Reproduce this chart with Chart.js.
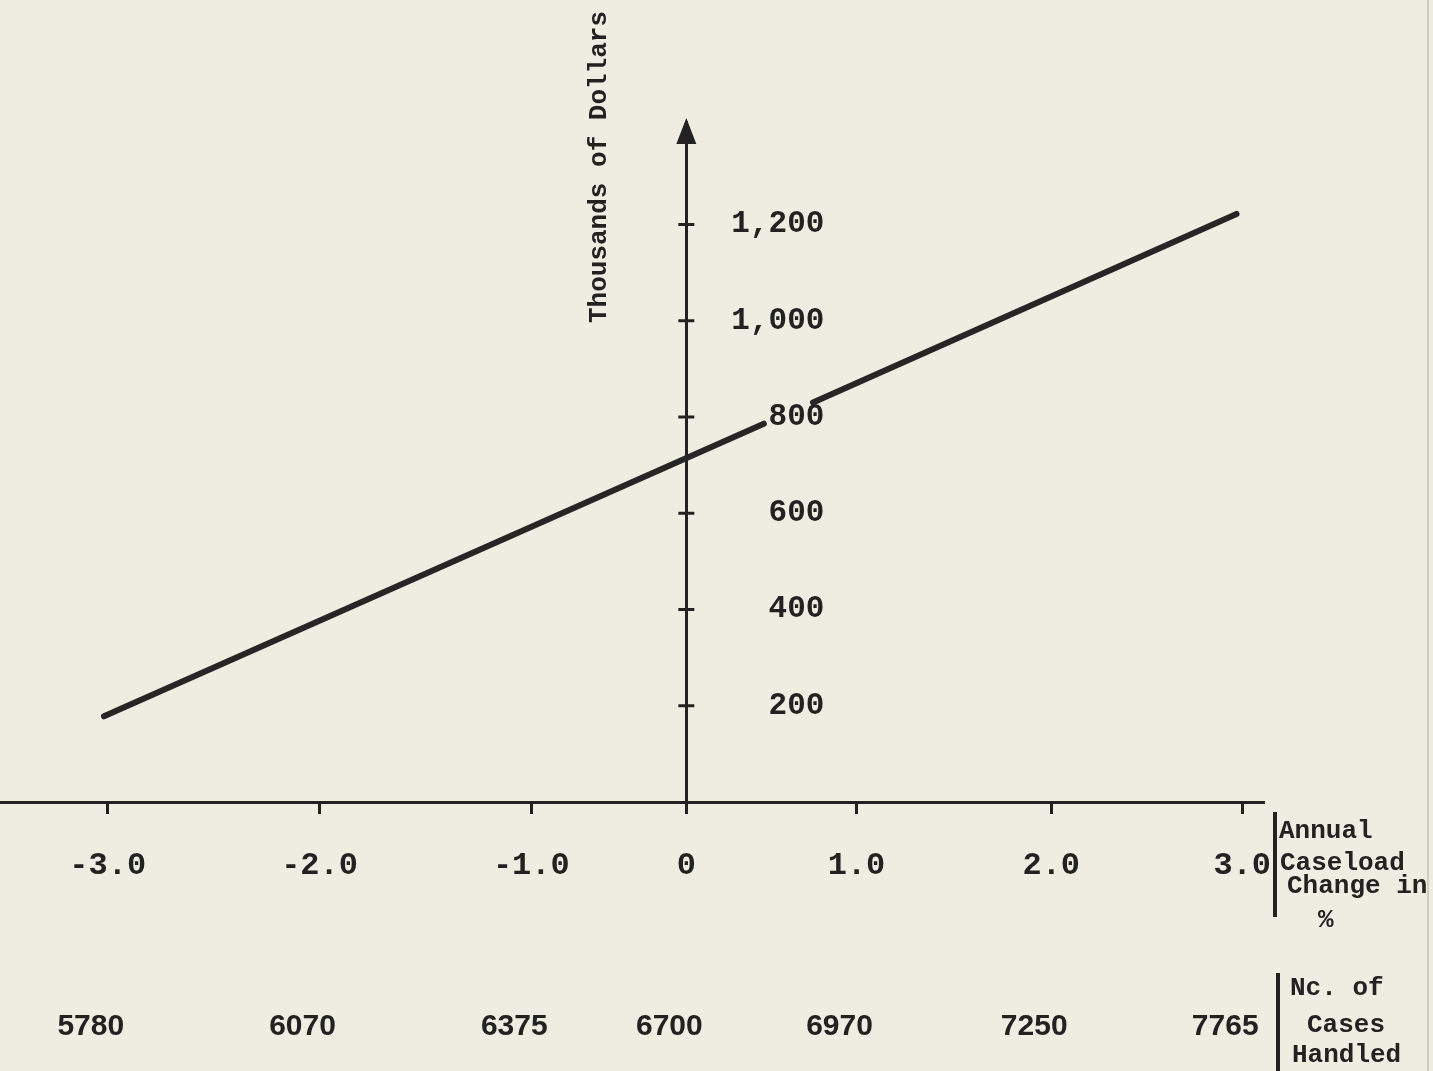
<!DOCTYPE html>
<html>
<head>
<meta charset="utf-8">
<title>Annual caseload change and cost</title>
<script src="https://cdn.jsdelivr.net/npm/chart.js@4.4.1/dist/chart.umd.min.js"></script>
<style>
  html, body { margin: 0; padding: 0; background: #efede1; overflow: hidden; }
  #wrap { position: relative; width: 1433px; height: 1071px; overflow: hidden; }
  #edge { position: absolute; left: 1427px; top: 0; width: 2px; height: 1071px; background: #cfcdbd; }
</style>
</head>
<body>
<div id="wrap">
  <!-- canvas runs a little past the window so the lower label row can sit near the bottom edge -->
  <canvas id="caseChart" width="1433" height="1140"></canvas>
  <div id="edge"></div>
</div>
<script>
// annual caseload change (%) and the matching number of cases handled
const caseloadChange = ["-3.0", "-2.0", "-1.0", "0", "1.0", "2.0", "3.0"];
const casesHandled = ["5780", "6070", "6375", "6700", "6970", "7250", "7765"];
// where each labelled tick sits on the drawn axis (spacing is uneven in the original)
const tickAt = [-3.0, -1.88, -0.76, 0.06, 0.96, 1.99, 3.0];

// cost line in thousands of dollars, broken where it passes the 800 label
const lineX = [-3.02, 0.47, 0.6, 0.73, 2.97];
const lineY = [178, 786, null, 830, 1222];

const yTicks = [200, 400, 600, 800, 1000, 1200];
const yLabels = ["200", "400", "600", "800", "1,000", "1,200"];

const yTitle = "Thousands of Dollars";
const changeNote = ["Annual", "Caseload", "Change in", "%"];
const casesNote = ["Nc. of", "Cases", "Handled"];

const ink = "#222222";
const typeFont = '"Liberation Mono", "Courier New", monospace';
const narrowFont = '"Liberation Sans Narrow", "Liberation Sans", sans-serif';

const xMin = -3.57;
const xMax = 3.11;

// arrow head, cross ticks, rotated title and the notes on the right
const extras = {
    id: "extras",
    afterDraw(chart) {
        const ctx = chart.ctx;
        const x = chart.scales.x;
        const y = chart.scales.y;
        const ax = x.getPixelForValue(tickAt[3]);
        const top = chart.chartArea.top;

        ctx.save();
        ctx.strokeStyle = ink;
        ctx.fillStyle = ink;
        ctx.lineWidth = 3;
        yTicks.forEach(v => {
            const py = y.getPixelForValue(v);
            ctx.beginPath();
            ctx.moveTo(ax - 8, py);
            ctx.lineTo(ax + 8, py);
            ctx.stroke();
        });

        ctx.beginPath();
        ctx.moveTo(ax, top - 4);
        ctx.lineTo(ax - 10, top + 22);
        ctx.lineTo(ax + 10, top + 22);
        ctx.closePath();
        ctx.fill();

        // brackets beside the two label rows
        ctx.lineWidth = 4;
        ctx.beginPath();
        ctx.moveTo(1275, 812);
        ctx.lineTo(1275, 917);
        ctx.moveTo(1278, 973);
        ctx.lineTo(1278, 1071);
        ctx.stroke();

        ctx.font = "bold 26px " + typeFont;
        ctx.textAlign = "left";
        ctx.textBaseline = "middle";
        const changeX = [1279, 1280, 1287, 1318];
        const changeY = [831, 863, 886, 920];
        changeNote.forEach((t, i) => ctx.fillText(t, changeX[i], changeY[i]));
        const casesX = [1290, 1307, 1292];
        const casesY = [988, 1025, 1055];
        casesNote.forEach((t, i) => ctx.fillText(t, casesX[i], casesY[i]));

        ctx.font = "bold 26px " + typeFont;
        ctx.textBaseline = "alphabetic";
        ctx.translate(606, 323);
        ctx.rotate(-Math.PI / 2);
        ctx.fillText(yTitle, 0, 0);
        ctx.restore();
    }
};

new Chart(document.getElementById("caseChart"), {
    type: "line",
    data: {
        datasets: [{
            data: lineX.map((v, i) => ({ x: v, y: lineY[i] })),
            borderColor: "#262626",
            borderWidth: 6,
            borderCapStyle: "round",
            pointRadius: 0,
            tension: 0,
            spanGaps: false
        }]
    },
    options: {
        responsive: false,
        animation: false,
        layout: { padding: { top: 122, right: 170, bottom: 4, left: 0 } },
        plugins: { legend: { display: false }, tooltip: { enabled: false } },
        scales: {
            x: {
                type: "linear",
                position: "bottom",
                weight: 0,
                min: xMin,
                max: xMax,
                afterBuildTicks: axis => { axis.ticks = tickAt.map(v => ({ value: v })); },
                grid: { drawOnChartArea: false, drawTicks: true, tickLength: 12, color: ink, lineWidth: 3 },
                border: { color: ink, width: 3 },
                ticks: {
                    callback: (v, i) => caseloadChange[i],
                    font: { family: typeFont, size: 32, weight: "bold", lineHeight: "104px" },
                    color: ink,
                    padding: 0,
                    maxRotation: 0,
                    autoSkip: false
                }
            },
            x2: {
                type: "linear",
                position: "bottom",
                weight: 1,
                min: xMin,
                max: xMax,
                afterBuildTicks: axis => { axis.ticks = tickAt.map(v => ({ value: v })); },
                grid: { display: false, drawTicks: false },
                border: { display: false },
                ticks: {
                    callback: (v, i) => casesHandled[i],
                    font: { family: narrowFont, size: 30, weight: "bold", lineHeight: "218px" },
                    color: ink,
                    padding: 0,
                    labelOffset: -17,
                    maxRotation: 0,
                    autoSkip: false
                }
            },
            y: {
                type: "linear",
                position: { x: tickAt[3] },
                min: 0,
                max: 1413,
                grid: { display: false, drawTicks: false },
                border: { color: ink, width: 3 },
                ticks: { display: false }
            },
            // carries the y tick labels, set off to the right of the axis line
            yLabels: {
                type: "linear",
                axis: "y",
                position: { x: 0.79 },
                min: 0,
                max: 1413,
                afterBuildTicks: axis => { axis.ticks = yTicks.map(v => ({ value: v })); },
                grid: { display: false, drawTicks: false },
                border: { display: false },
                ticks: {
                    callback: (v, i) => yLabels[i],
                    font: { family: typeFont, size: 31, weight: "bold" },
                    color: ink,
                    padding: 0
                }
            }
        }
    },
    plugins: [extras]
});
</script>
</body>
</html>
